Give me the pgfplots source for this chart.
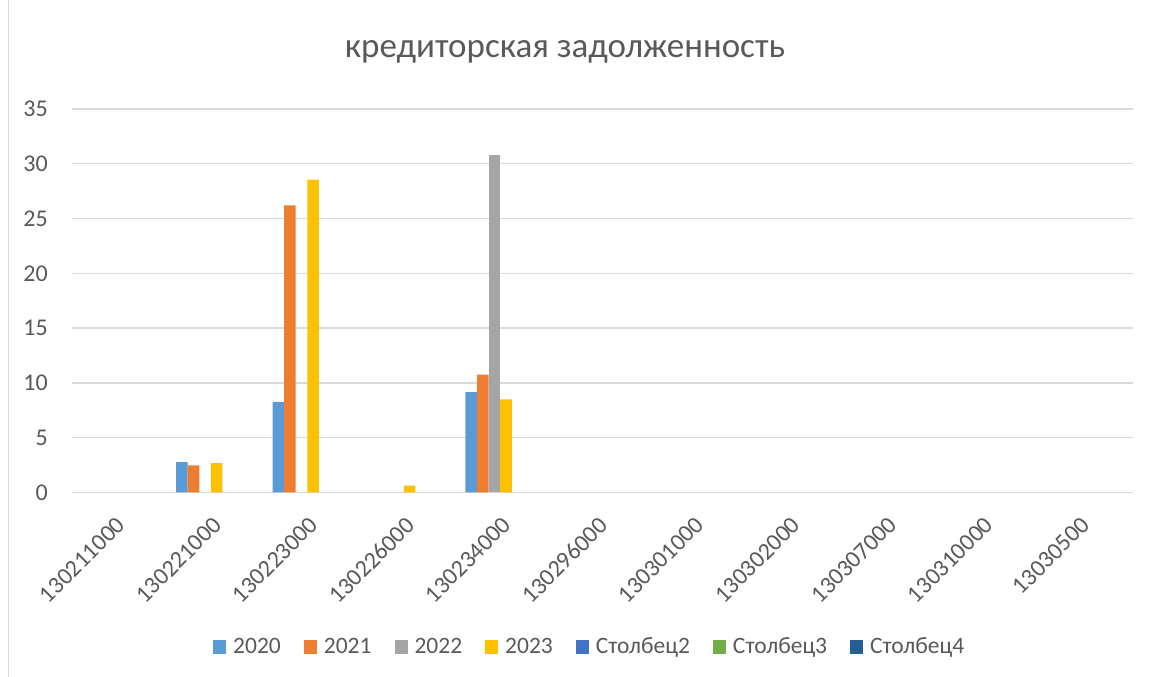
\documentclass[border=0pt]{standalone}
\usepackage{pgfplots}
\pgfplotsset{compat=1.18}
\usepackage{fontspec}
\setmainfont{Carlito}
\definecolor{txt}{HTML}{595959}
\definecolor{grd}{HTML}{D9D9D9}
\definecolor{cA}{HTML}{5B9BD5}
\definecolor{cB}{HTML}{ED7D31}
\definecolor{cC}{HTML}{A5A5A5}
\definecolor{cD}{HTML}{FFC000}
\definecolor{cE}{HTML}{4472C4}
\definecolor{cF}{HTML}{70AD47}
\definecolor{cG}{HTML}{255E91}
\begin{document}
\begin{tikzpicture}[x=1pt,y=1pt]
\path[use as bounding box] (0,0) rectangle (1149,677);
\draw[grd, line width=1.2pt] (8.5,0) -- (8.5,677);
\node[anchor=base, text=txt, font=\fontsize{35}{42}\selectfont] at (565,619) {кредиторская задолженность};
\begin{axis}[
  at={(72pt,184.5pt)}, anchor=south west,
  scale only axis, width=1061pt, height=383.5pt,
  xmin=-0.5, xmax=10.5, ymin=0, ymax=35,
  ytick={0,5,...,35},
  xtick={0,...,10},
  xticklabels={130211000,130221000,130223000,130226000,130234000,130296000,130301000,130302000,130307000,130310000,13030500},
  axis line style={draw=none},
  major tick length=0pt,
  ymajorgrids, grid style={grd, line width=1.3pt},
  /pgf/number format/assume math mode=true,
  tick label style={text=txt, font=\fontsize{24}{29}\selectfont},
  yticklabel style={anchor=east, inner sep=0pt, xshift=-24pt},
  xticklabel style={anchor=north east, inner sep=0pt, xshift=-5pt, yshift=-23pt, rotate=45},
  legend style={at={(0.488,-0.402)}, anchor=center, draw=none, fill=none,
    legend columns=7, font=\fontsize{23.5}{28}\selectfont, text=txt,
    /tikz/every even column/.append style={column sep=21pt},
    /tikz/every odd column/.append style={column sep=5pt}},
  legend image code/.code={\fill[#1] (0pt,-7pt) rectangle (13pt,7pt);},
  every axis plot/.append style={ybar, bar width=11.6pt, draw=none},
]
\addplot[fill=cA, bar shift=-34.8pt] coordinates {(1,2.78) (2,8.26) (4,9.15)};
\addlegendentry{2020}
\addplot[fill=cB, bar shift=-23.2pt] coordinates {(1,2.48) (2,26.2) (4,10.75)};
\addlegendentry{2021}
\addplot[fill=cC, bar shift=-11.6pt] coordinates {(4,30.8)};
\addlegendentry{2022}
\addplot[fill=cD, bar shift=0pt] coordinates {(1,2.69) (2,28.55) (3,0.62) (4,8.5)};
\addlegendentry{2023}
\addlegendimage{fill=cE}
\addlegendentry{Столбец2}
\addlegendimage{fill=cF}
\addlegendentry{Столбец3}
\addlegendimage{fill=cG}
\addlegendentry{Столбец4}
\end{axis}
\end{tikzpicture}
\end{document}
